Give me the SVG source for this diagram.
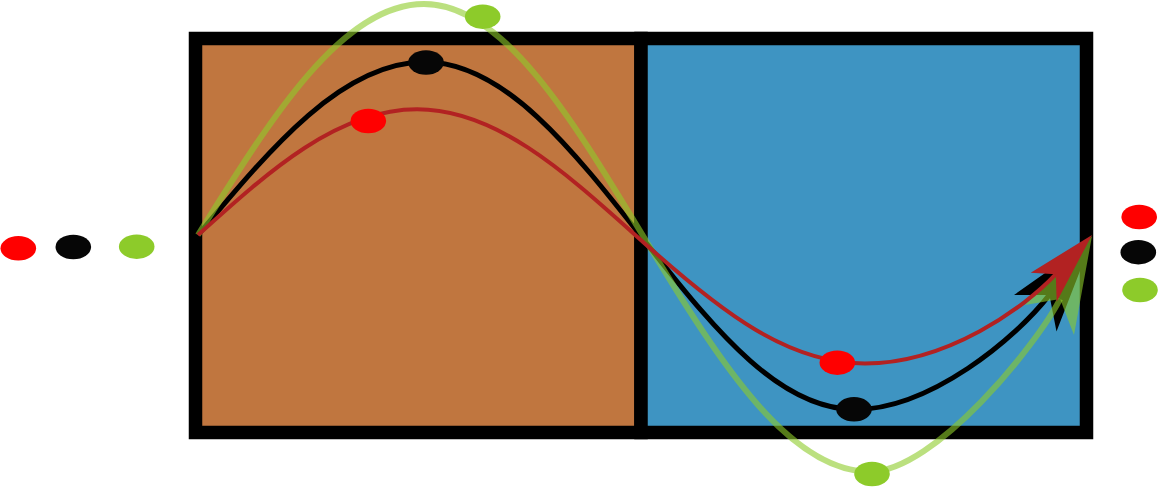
<svg xmlns="http://www.w3.org/2000/svg" width="1158" height="487" viewBox="0 0 1158 487">
  <style>
    .box { stroke: #000000; stroke-width: 13.5; }
    .left { fill: #C0763F; }
    .right { fill: #3E94C2; }
    .curve { fill: none; stroke-linecap: butt; stroke-linejoin: round; }
    .k { stroke: #000000; stroke-width: 5; }
    .g { stroke: #8DCB2A; stroke-width: 6; stroke-opacity: 0.6; }
    .r { stroke: #B22222; stroke-width: 4; }
    .ah-k { fill: #000000; }
    .ah-g { fill: #8DCB2A; fill-opacity: 0.6; }
    .ah-r { fill: #B22222; }
    .dot-r { fill: #FF0000; }
    .dot-k { fill: #060606; }
    .dot-g { fill: #8DCB2A; }
  </style>
  <rect width="1158" height="487" fill="#FFFFFF"/>
  <g id="box-left">
    <rect class="box left" x="195.5" y="38.5" width="445.5" height="394"/>
  </g>
  <g id="box-right">
    <rect class="box right" x="641" y="38.5" width="445.5" height="394"/>
  </g>
  <g id="connectors">
    <g id="path-black">
      <path class="curve k" d="M198,235 C272,146.4 342.8,62 425,62 C506.8,62 577.3,155.4 651,249 C717.5,333.5 781.2,409.5 855,409.5 C930,409.5 1015.7,338.4 1049.4,294.9"/>
      <polygon class="ah-k" points="1092,240 1014,295 1049.4,294.9 1056.5,331.5"/>
    </g>
    <g id="path-green">
      <path class="curve g" d="M198,235 C271.7,116.7 342.2,4 424,4 C506.2,4 577,127.1 651,249 C722.4,366.6 790.7,471.7 870,471.7 C935,471.7 1037.5,343.6 1060.1,299"/>
      <polygon class="ah-g" points="1092,236 1025,305 1060.1,299 1074,335"/>
    </g>
    <g id="path-red">
      <path class="curve r" d="M198,235 C269.4,170.6 337.7,109.3 417,109.3 C501.7,109.3 574.7,181.2 651,249 C720.8,311 787.6,363.5 865,363.5 C947.2,363.5 1025.2,307.2 1055.8,274.2"/>
      <polygon class="ah-r" points="1092,235 1030.7,272.7 1055.8,274.2 1056.7,301.7"/>
    </g>
  </g>
  <g id="dots-left">
    <ellipse class="dot-r" cx="18.3" cy="248.3" rx="17.8" ry="12.2"/>
    <ellipse class="dot-k" cx="73.3" cy="247" rx="17.8" ry="12.2"/>
    <ellipse class="dot-g" cx="136.7" cy="246.7" rx="17.8" ry="12.2"/>
  </g>
  <g id="dots-first-half">
    <ellipse class="dot-g" cx="482.7" cy="16.7" rx="17.8" ry="12.2"/>
    <ellipse class="dot-k" cx="426" cy="62.5" rx="17.8" ry="12.2"/>
    <ellipse class="dot-r" cx="368.3" cy="121" rx="17.8" ry="12.2"/>
  </g>
  <g id="dots-second-half">
    <ellipse class="dot-r" cx="837.3" cy="362.7" rx="17.8" ry="12.2"/>
    <ellipse class="dot-k" cx="854" cy="409.3" rx="17.8" ry="12.2"/>
    <ellipse class="dot-g" cx="872" cy="474" rx="17.8" ry="12.2"/>
  </g>
  <g id="dots-right">
    <ellipse class="dot-r" cx="1139.2" cy="217" rx="17.8" ry="12.2"/>
    <ellipse class="dot-k" cx="1138.3" cy="252.2" rx="17.8" ry="12.2"/>
    <ellipse class="dot-g" cx="1140" cy="290" rx="17.8" ry="12.2"/>
  </g>
</svg>
